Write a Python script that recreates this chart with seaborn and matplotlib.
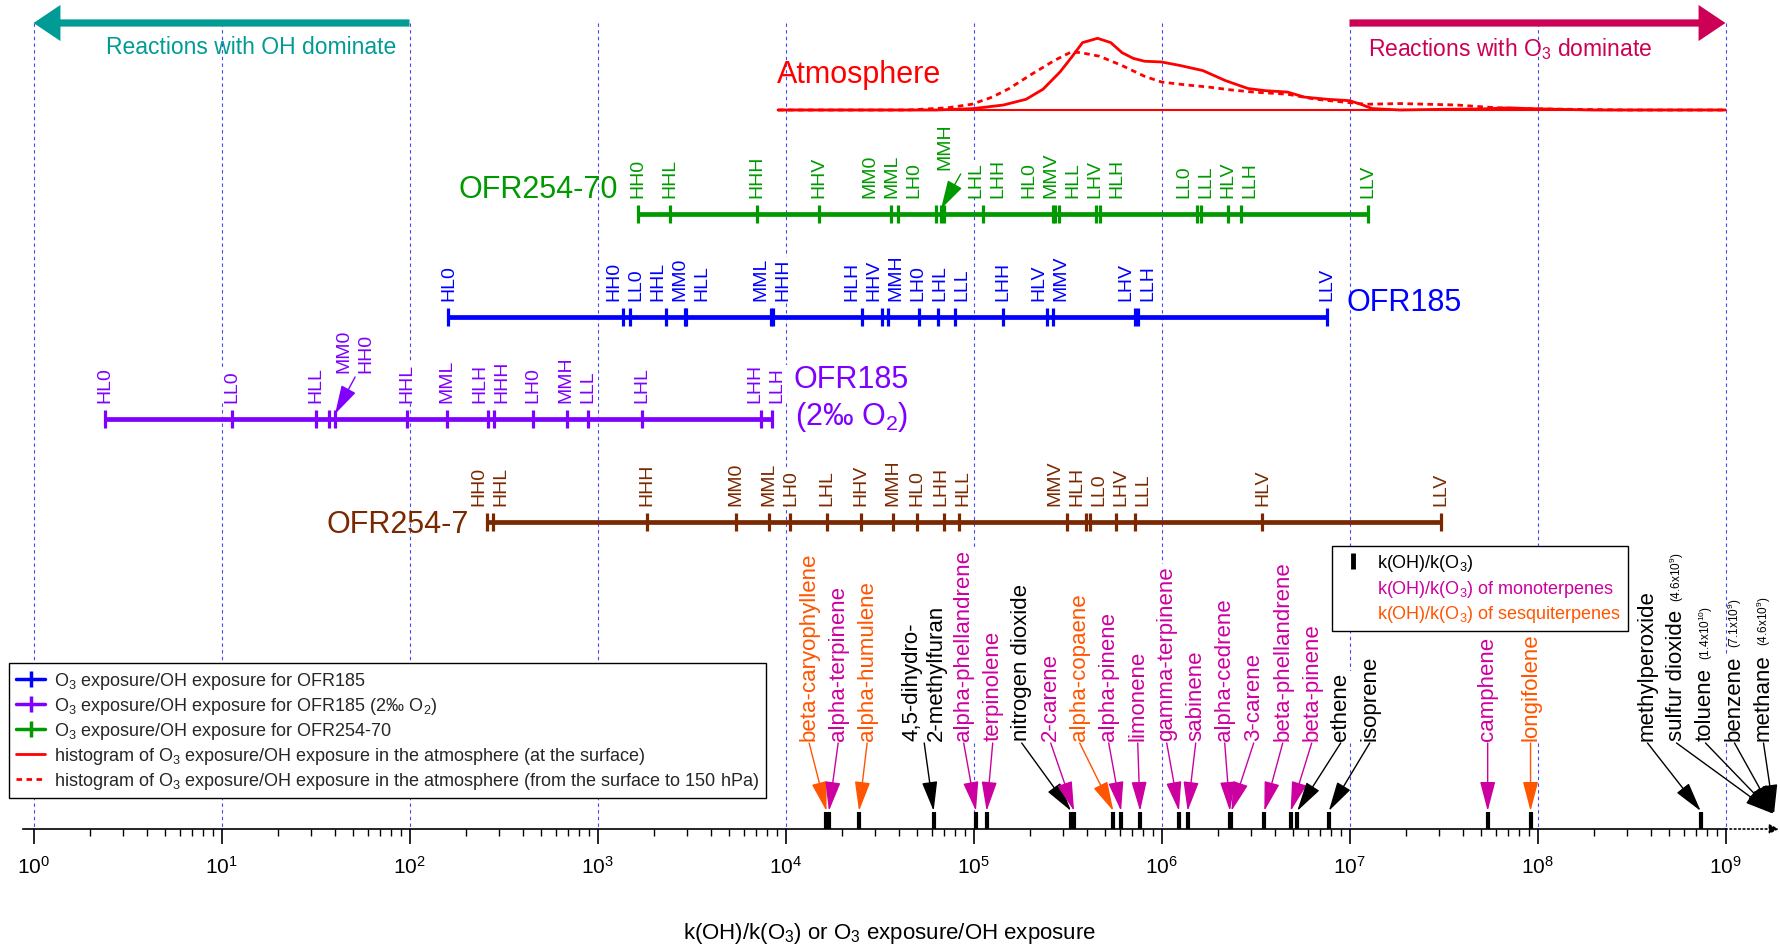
import numpy as np
import matplotlib
matplotlib.use("Agg")
import matplotlib.pyplot as plt
from matplotlib import ticker
from matplotlib.lines import Line2D
from matplotlib.transforms import IdentityTransform
import seaborn as sns

# ---------------- data (log10 of O3 exposure/OH exposure or k(OH)/k(O3)) ----------------
atm_surface_logx = [3.96, 4.80, 5.00, 5.16, 5.28, 5.37, 5.46, 5.52, 5.58, 5.66, 5.73, 5.79, 5.85,
                    5.91, 6.00, 6.10, 6.22, 6.34, 6.46, 6.55, 6.67, 6.76, 6.88, 7.00, 7.06, 7.12,
                    7.27, 7.50, 7.70, 7.85, 7.95, 8.10, 8.30, 9.00]
atm_surface_freq = [0.0, 0.0, 0.02, 0.07, 0.15, 0.29, 0.53, 0.73, 0.94, 1.00, 0.94, 0.80, 0.72,
                    0.68, 0.67, 0.62, 0.55, 0.41, 0.30, 0.27, 0.25, 0.18, 0.15, 0.13, 0.08, 0.02,
                    0.0, 0.01, 0.015, 0.03, 0.02, 0.01, 0.0, 0.0]

atm_column_logx = [3.96, 4.65, 4.86, 4.99, 5.10, 5.19, 5.31, 5.43, 5.52, 5.57, 5.67, 5.79, 5.91,
                   6.00, 6.13, 6.25, 6.37, 6.49, 6.67, 6.82, 6.97, 7.09, 7.27, 7.42, 7.57, 7.73,
                   7.88, 8.18, 8.48, 9.00]
atm_column_freq = [0.0, 0.0, 0.03, 0.08, 0.18, 0.30, 0.50, 0.69, 0.81, 0.80, 0.75, 0.62, 0.47,
                   0.39, 0.35, 0.32, 0.28, 0.25, 0.22, 0.15, 0.11, 0.08, 0.09, 0.08, 0.07, 0.04,
                   0.02, 0.01, 0.0, 0.0]

ofr254_70_labels = ["HH0", "HHL", "HHH", "HHV", "MM0", "MML", "LH0", "MMH", "LHL", "LHH",
                    "HL0", "MMV", "HLL", "LHV", "HLH", "LL0", "LLL", "HLV", "LLH", "LLV"]
ofr254_70_logx = [3.213, 3.386, 3.850, 4.178, 4.560, 4.601, 4.798, 4.827, 4.843, 5.053,
                  5.421, 5.434, 5.456, 5.652, 5.673, 6.187, 6.210, 6.355, 6.421, 7.100]

ofr185_labels = ["HL0", "HH0", "LL0", "HHL", "MM0", "HLL", "MML", "HHH", "HLH", "HHV",
                 "MMH", "LH0", "LHL", "LLL", "LHH", "HLV", "MMV", "LHV", "LLH", "LLV"]
ofr185_logx = [2.207, 3.133, 3.172, 3.365, 3.463, 3.473, 3.921, 3.931, 4.405, 4.511,
               4.547, 4.709, 4.810, 4.902, 5.156, 5.389, 5.424, 5.859, 5.877, 6.879]

ofr185_lowo2_labels = ["HL0", "LL0", "HLL", "MM0", "HH0", "HHL", "MML", "HLH", "HHH", "LH0",
                       "MMH", "LLL", "LHL", "LHH", "LLH"]
ofr185_lowo2_logx = [0.380, 1.054, 1.501, 1.573, 1.604, 1.988, 2.198, 2.419, 2.449, 2.655,
                     2.836, 2.948, 3.238, 3.868, 3.927]

ofr254_7_labels = ["HH0", "HHL", "HHH", "MM0", "MML", "LH0", "LHL", "HHV", "MMH", "HL0",
                   "LHH", "HLL", "MMV", "HLH", "LL0", "LHV", "LLL", "HLV", "LLV"]
ofr254_7_logx = [2.410, 2.442, 3.262, 3.737, 3.910, 4.026, 4.219, 4.400, 4.572, 4.701,
                 4.843, 4.924, 5.498, 5.601, 5.621, 5.759, 5.861, 6.537, 7.486]

species_names = ["beta-caryophyllene", "alpha-terpinene", "alpha-humulene",
                 "4,5-dihydro-\n2-methylfuran", "alpha-phellandrene", "terpinolene",
                 "nitrogen dioxide", "2-carene", "alpha-copaene", "alpha-pinene", "limonene",
                 "gamma-terpinene", "sabinene", "alpha-cedrene", "3-carene",
                 "beta-phellandrene", "beta-pinene", "ethene", "isoprene", "camphene",
                 "longifolene", "methylperoxide", "sulfur dioxide", "toluene", "benzene",
                 "methane"]
species_logx = [4.218, 4.231, 4.391, 4.788, 5.013, 5.070, 5.519, 5.535, 5.744, 5.785, 5.886,
                6.093, 6.139, 6.364, 6.372, 6.547, 6.687, 6.722, 6.890, 7.735, 7.963, 8.868,
                9.663, 10.146, 9.851, 9.663]
species_group = ["sesq", "mono", "sesq", "other", "mono", "mono", "other", "mono", "sesq",
                 "mono", "mono", "mono", "mono", "mono", "mono", "mono", "mono", "other",
                 "other", "mono", "sesq", "other", "other", "other", "other", "other"]
species_note = [""] * 22 + ["(4.6x10$^{9}$)", "(1.4x10$^{10}$)", "(7.1x10$^{9}$)", "(4.6x10$^{9}$)"]

# ---------------- style ----------------
sns.set_theme(style="ticks")
plt.rcParams["font.family"] = ["Liberation Sans", "DejaVu Sans"]
plt.rcParams["mathtext.fontset"] = "custom"
plt.rcParams["mathtext.rm"] = "Liberation Sans"
plt.rcParams["mathtext.it"] = "Liberation Sans:italic"
plt.rcParams["mathtext.bf"] = "Liberation Sans:bold"

TEAL, CRIMSON = "#009B95", "#CC0055"
GREEN, BLUE, PURPLE, BROWN = "#009900", "#0000FF", "#7F00FF", "#7A2800"
MAGENTA, ORANGE = "#CC00A0", "#FF5500"
group_color = {"other": "black", "mono": MAGENTA, "sesq": ORANGE}

W, H = 1780, 945
DEC_PX, X0_PX = 188.0, 33.5
AXIS_Y, BAR_TOP, SPECIES_LABEL_Y = 830, 813, 741
ATM_BASE, ATM_SCALE = 111, 71.7
LABEL_FS = 14
LABEL_BOX = dict(boxstyle="square,pad=0.05", fc="white", ec="none")

fig = plt.figure(figsize=(W / 100, H / 100), dpi=100)
ax = fig.add_axes([0, 0, 1, 1])
ax.set_xscale("log")

# atmosphere histograms
sns.lineplot(x=10 ** np.array(atm_surface_logx),
             y=ATM_BASE - ATM_SCALE * np.array(atm_surface_freq),
             ax=ax, color="red", lw=2, sort=False, estimator=None, zorder=3)
sns.lineplot(x=10 ** np.array(atm_column_logx),
             y=ATM_BASE - ATM_SCALE * np.array(atm_column_freq),
             ax=ax, color="red", lw=2, linestyle=(0, (2, 1.6)), sort=False, estimator=None,
             zorder=3)

ax.set_xlim(10 ** (-X0_PX / DEC_PX), 10 ** ((W - X0_PX) / DEC_PX))
ax.set_ylim(H, 0)
ax.hlines(ATM_BASE, 10 ** atm_surface_logx[0], 1e9, color="red", lw=1.5, zorder=3)
ax.text(10 ** 3.957, 83, "Atmosphere", color="red", fontsize=22, ha="left", va="baseline")


def to_px(v):
    return ax.transData.transform((v, 0))[0]


def from_px(p):
    return ax.transData.inverted().transform((p, 0))[0]


def spread(desired, widths, lo, hi):
    """push labels apart (1D) keeping them as close as possible to their targets"""
    order = np.argsort(desired, kind="stable")
    blocks = []

    def place(b):
        w = np.array([widths[i] for i in b["m"]], dtype=float)
        offs = np.cumsum(w) - w / 2
        b["W"] = w.sum()
        left = np.mean([desired[i] - o for i, o in zip(b["m"], offs)])
        b["L"] = min(max(left, lo), hi - b["W"])
        b["offs"] = offs

    for i in order:
        b = {"m": [i]}
        place(b)
        blocks.append(b)
        while len(blocks) > 1 and blocks[-2]["L"] + blocks[-2]["W"] > blocks[-1]["L"]:
            nb = blocks.pop()
            pb = blocks.pop()
            pb["m"] = pb["m"] + nb["m"]
            place(pb)
            blocks.append(pb)
    centers = np.zeros(len(desired))
    for b in blocks:
        for i, o in zip(b["m"], b["offs"]):
            centers[i] = b["L"] + o
    return centers


# decade grid
decades = 10.0 ** np.arange(0, 10)
ax.vlines(decades, 24, AXIS_Y, colors="#4444ff", lw=0.8, linestyles=(0, (3, 3)), zorder=0.5)

# regime arrows
arrow_kw = dict(arrowstyle="simple,head_length=0.97,head_width=1.3,tail_width=0.26",
                mutation_scale=20, lw=0, ec="none", shrinkA=0, shrinkB=0)
ax.annotate("", xy=(1, 24), xytext=(100, 24), arrowprops=dict(fc=TEAL, **arrow_kw))
ax.annotate("", xy=(1e9, 24), xytext=(1e7, 24), arrowprops=dict(fc=CRIMSON, **arrow_kw))
ax.text(10 ** 1.93, 54, "Reactions with OH dominate", color=TEAL, fontsize=16.5,
        ha="right", va="baseline")
ax.text(10 ** 7.1, 56, "Reactions with O$_3$ dominate", color=CRIMSON, fontsize=16.5,
        ha="left", va="baseline")

# OFR rows; raised = (labels, shift px, lift px, arrow tail dx px, slot width px)
rows = [
    dict(labels=ofr254_70_labels, logx=ofr254_70_logx, color=GREEN, y=215,
         title="OFR254-70", side="left", off=(-20, 25), raised=(["MMH"], 0, 45, 16, 40)),
    dict(labels=ofr185_labels, logx=ofr185_logx, color=BLUE, y=318,
         title="OFR185", side="right", off=(20, 15), raised=None),
    dict(labels=ofr185_lowo2_labels, logx=ofr185_lowo2_logx, color=PURPLE, y=420,
         title="OFR185\n(2‰ O$_2$)", side="right", off=(22, 20),
         raised=(["MM0", "HH0"], 23, 47, 0, 0)),
    dict(labels=ofr254_7_labels, logx=ofr254_7_logx, color=BROWN, y=523,
         title="OFR254-7", side="left", off=(-18, -2), raised=None),
]

for r in rows:
    x = 10 ** np.asarray(r["logx"])
    y, color, labels = r["y"], r["color"], r["labels"]
    ax.plot([x.min(), x.max()], [y, y], color=color, lw=3.4, solid_capstyle="butt", zorder=3)
    ax.plot(x, np.full(len(x), y), ls="none", marker="|", ms=13, mew=2.3, color=color, zorder=3)

    up_names, shift, lift, tail_dx, slot = r["raised"] if r["raised"] else ([], 0, 0, 0, 0)
    px_all = np.array([to_px(v) for v in x])
    up = [i for i, l in enumerate(labels) if l in up_names]
    pos = {}
    if slot:
        w = [slot if i in up else 22 for i in range(len(labels))]
        cen = spread(px_all, w, 0, W)
        for i in range(len(labels)):
            pos[i] = (cen[i], lift if i in up else 17)
    else:
        normal = [i for i in range(len(labels)) if i not in up]
        for idx, dx, dy in [(normal, 0, 17), (up, shift, lift)]:
            if not idx:
                continue
            cen = spread(px_all[idx], [22] * len(idx), 0, W) + dx
            for i, c in zip(idx, cen):
                pos[i] = (c, dy)
    for i, (c, dy) in pos.items():
        ax.annotate(labels[i], xy=(x[i], y), xytext=(c - px_all[i], dy), textcoords="offset pixels",
                    rotation=90, ha="center", va="bottom", fontsize=LABEL_FS, color=color,
                    bbox=LABEL_BOX, zorder=4)
    if up:
        tail = np.mean([pos[i][0] for i in up]) + tail_dx
        ax.annotate("", xy=(x[max(up)], y - 5), xytext=(from_px(tail), y - lift + 5),
                    arrowprops=dict(arrowstyle="-|>,head_length=1.0,head_width=0.28",
                                    mutation_scale=18, color=color, lw=1, shrinkA=0, shrinkB=0))

    if r["side"] == "left":
        ax.annotate(r["title"], xy=(x.min(), y), xytext=r["off"], textcoords="offset pixels",
                    ha="right", va="center", fontsize=22, color=color)
    else:
        ax.annotate(r["title"], xy=(x.max(), y), xytext=r["off"], textcoords="offset pixels",
                    ha="left", va="center", fontsize=22, color=color, multialignment="center")

# species k(OH)/k(O3)
sx = 10 ** np.asarray(species_logx)
on_axis = sx <= 1e9
ax.vlines(sx[on_axis], BAR_TOP, AXIS_Y, colors="black", lw=3, zorder=4)
tip_px = np.minimum([to_px(v) for v in sx], W - 6)
widths = [50 if "\n" in n else 29 for n in species_names]
centers = spread(tip_px, widths, 0, W - 2)
label_artists = []
for i, name in enumerate(species_names):
    c = group_color[species_group[i]]
    lx = from_px(centers[i])
    tip_y = BAR_TOP - 1 if on_axis[i] else 815
    ax.annotate("", xy=(from_px(tip_px[i]), tip_y), xytext=(lx, SPECIES_LABEL_Y + 3),
                annotation_clip=False, zorder=3,
                arrowprops=dict(arrowstyle="-|>,head_length=1.15,head_width=0.3", color=c,
                                lw=1, mutation_scale=16, shrinkA=0, shrinkB=0))
    t = ax.text(lx, SPECIES_LABEL_Y, name, rotation=90, ha="center", va="bottom", fontsize=16,
                color=c, multialignment="left", bbox=LABEL_BOX, zorder=4)
    label_artists.append(t)

# axis
for s in ["top", "left", "right"]:
    ax.spines[s].set_visible(False)
ax.spines["bottom"].set_position(("data", AXIS_Y))
ax.spines["bottom"].set_bounds(10 ** -0.058, 1e9)
ax.spines["bottom"].set_color("black")
ax.spines["bottom"].set_linewidth(1.2)
ax.set_yticks([])
ax.xaxis.set_major_locator(ticker.FixedLocator(decades))
ax.xaxis.set_major_formatter(ticker.LogFormatterSciNotation())
ax.xaxis.set_minor_locator(ticker.FixedLocator([m * 10.0 ** k for k in range(9) for m in range(2, 10)]))
ax.xaxis.set_minor_formatter(ticker.NullFormatter())
ax.tick_params(axis="x", which="major", direction="out", length=11, width=1.2, labelsize=15,
               pad=8, colors="black")
ax.tick_params(axis="x", which="minor", direction="out", length=5, width=1, colors="black")
ax.set_ylabel("")
ax.set_xlabel("k(OH)/k(O$_3$) or O$_3$ exposure/OH exposure", fontsize=16, labelpad=31,
              color="black")
ax.annotate("", xy=(10 ** 9.285, AXIS_Y), xytext=(1e9, AXIS_Y), annotation_clip=False,
            arrowprops=dict(arrowstyle="-|>", ls=":", lw=1.2, color="black", shrinkA=0,
                            shrinkB=0, mutation_scale=14))

# legends
row_handles = [
    Line2D([], [], color=BLUE, lw=2.5, marker="|", ms=11, mew=2.5),
    Line2D([], [], color=PURPLE, lw=2.5, marker="|", ms=11, mew=2.5),
    Line2D([], [], color=GREEN, lw=2.5, marker="|", ms=11, mew=2.5),
    Line2D([], [], color="red", lw=2),
    Line2D([], [], color="red", lw=2, ls=(0, (2, 1.6))),
]
row_texts = [
    "O$_3$ exposure/OH exposure for OFR185",
    "O$_3$ exposure/OH exposure for OFR185 (2‰ O$_2$)",
    "O$_3$ exposure/OH exposure for OFR254-70",
    "histogram of O$_3$ exposure/OH exposure in the atmosphere (at the surface)",
    "histogram of O$_3$ exposure/OH exposure in the atmosphere (from the surface to 150 hPa)",
]
leg1 = ax.legend(row_handles, row_texts, loc="upper left", bbox_to_anchor=(9 / W, 1 - 664 / H),
                 bbox_transform=fig.transFigure, fontsize=13, frameon=True, fancybox=False,
                 edgecolor="black", framealpha=1, borderpad=0.4, borderaxespad=0,
                 handlelength=1.6, handletextpad=0.5, labelspacing=0.22, numpoints=1)
leg1.get_frame().set_linewidth(1)
ax.add_artist(leg1)

sp_handles = [Line2D([], [], ls="none", marker="|", ms=11, mew=3.5, color="black"),
              Line2D([], [], ls="none"), Line2D([], [], ls="none")]
sp_texts = ["k(OH)/k(O$_3$)", "k(OH)/k(O$_3$) of monoterpenes", "k(OH)/k(O$_3$) of sesquiterpenes"]
leg2 = ax.legend(sp_handles, sp_texts, loc="upper left", bbox_to_anchor=(1332 / W, 1 - 547 / H),
                 bbox_transform=fig.transFigure, fontsize=13, frameon=True, fancybox=False,
                 edgecolor="black", framealpha=1, borderpad=0.35, borderaxespad=0,
                 handlelength=1.6, handletextpad=0.55, labelspacing=0.25, numpoints=1)
leg2.get_frame().set_linewidth(1)
for t, c in zip(leg2.get_texts(), ["black", MAGENTA, ORANGE]):
    t.set_color(c)

# small value notes for species beyond the axis (placed above their rotated label)
fig.canvas.draw()
renderer = fig.canvas.get_renderer()
for t, note in zip(label_artists, species_note):
    if note:
        bb = t.get_window_extent(renderer)
        ax.text(bb.x1 - 1, bb.y1 + 8, note, transform=IdentityTransform(), rotation=90,
                ha="right", va="bottom", fontsize=8.5, color="black")

fig.savefig("out.png", dpi=100)
plt.close(fig)
